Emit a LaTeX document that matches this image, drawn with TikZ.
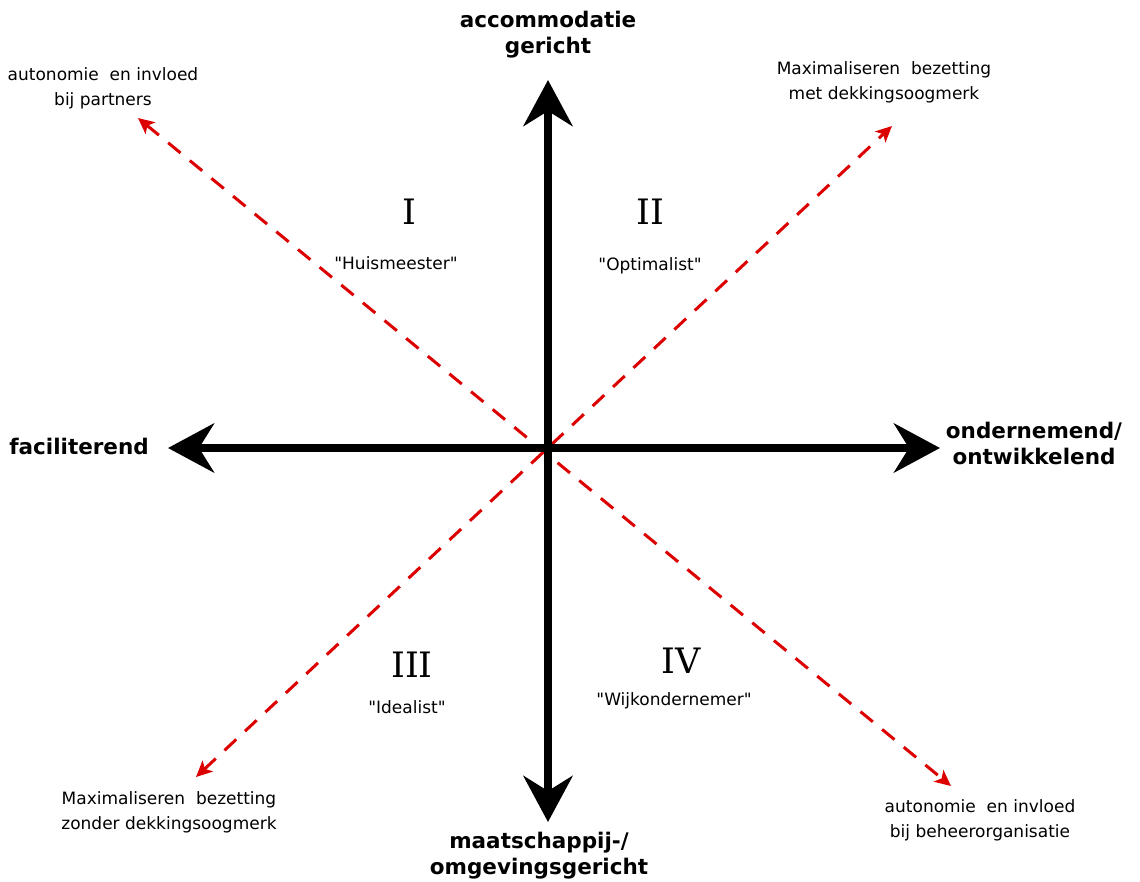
\documentclass[tikz,border=0pt]{standalone}
\usepackage{fontspec}
\setmainfont{DejaVu Sans}
\newfontfamily\labelfont{DejaVu Sans}
\newfontfamily\numfont{DejaVu Serif}
\usetikzlibrary{arrows.meta}
\tikzset{
  axis/.style={line width=8pt, {Stealth[length=46pt,width=49pt,inset=15pt]}-{Stealth[length=46pt,width=49pt,inset=15pt]}},
  diag/.style={draw={rgb,255:red,220;green,0;blue,0}, line width=3pt, dash pattern=on 16pt off 12pt,
     {Stealth[length=16pt,width=15pt,inset=4pt]}-{Stealth[length=16pt,width=15pt,inset=4pt]}},
  axlabel/.style={font=\fontsize{21.5}{26}\selectfont\bfseries, align=center, inner sep=0pt},
  small/.style={font=\fontsize{17}{25}\selectfont\labelfont, align=center, inner sep=0pt},
  roman/.style={font=\fontsize{35}{35}\selectfont\numfont, inner sep=0pt},
}
\begin{document}
\begin{tikzpicture}[x=1pt,y=-1pt]
\useasboundingbox (0,0) rectangle (1140,881);
% axis endpoints
\coordinate (top) at (548,80);
\coordinate (bot) at (548,822);
\coordinate (lft) at (168,448);
\coordinate (rgt) at (940,448);
% diagonal endpoints
\coordinate (ul) at (138,118);
\coordinate (lr) at (951,786);
\coordinate (ll) at (196,777);
\coordinate (ur) at (892,126);
\draw[diag] (ul) -- (lr);
\draw[diag] (ll) -- (ur);
\draw[axis] (bot) -- (top);
\draw[axis] (lft) -- (rgt);
% axis labels
\node[axlabel] (tlab) at (548,35) {accommodatie\\gericht};
\node[axlabel] (llab) at (79,446) {faciliterend};
\node[axlabel] (rlab) at (1034,443) {ondernemend/\\ontwikkelend};
\node[axlabel] (blab) at (539,856) {maatschappij-/\\omgevingsgericht};
% quadrant numerals
\node[roman] (q1) at (409,212) {I};
\node[roman] (q2) at (650,212) {II};
\node[roman] (q3) at (412,665) {III};
\node[roman] (q4) at (681,661) {IV};
% quadrant names
\node[small] (n1) at (396,263) {"Huismeester"};
\node[small] (n2) at (650,266) {"Optimalist"};
\node[small] (n3) at (407,707) {"Idealist"};
\node[small] (n4) at (674,701) {"Wijkondernemer"};
% diagonal labels
\node[small] (dul) at (103,88) {autonomie~ en invloed\\bij partners};
\node[small] (dur) at (884,82) {Maximaliseren~ bezetting\\met dekkingsoogmerk};
\node[small] (dll) at (169,812) {Maximaliseren~ bezetting\\zonder dekkingsoogmerk};
\node[small] (dlr) at (980,820) {autonomie~ en invloed\\bij beheerorganisatie};
\end{tikzpicture}
\end{document}
